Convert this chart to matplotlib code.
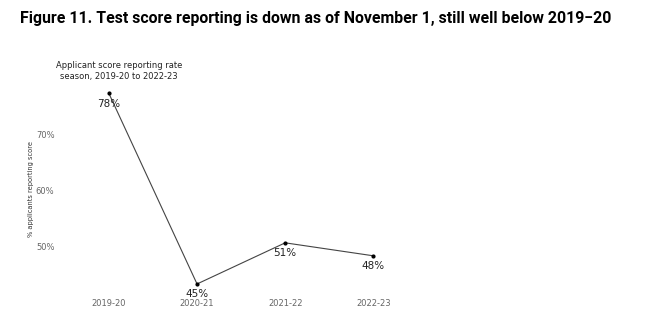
import matplotlib.pyplot as plt

seasons = ['2019-20', '2020-21', '2021-22', '2022-23']
rate = [77.2, 43.4, 50.7, 48.4]
rate_labels = ['78%', '45%', '51%', '48%']
yticks = [50, 60, 70]

fig = plt.figure(figsize=(6.58, 3.22), dpi=100)
W, H = 658, 322
# axes placed in pixel coords
left, right, top, bottom = 60, 420, 85, 293
ax = fig.add_axes([left / W, 1 - bottom / H, (right - left) / W, (bottom - top) / H])

x = range(len(seasons))
ax.plot(x, rate, color='#444444', lw=0.8, marker='o', ms=2, mfc='black', mec='black')
for xi, v, lab in zip(x, rate, rate_labels):
    ax.annotate(lab, (xi, v), xytext=(0, -7.5), textcoords='offset points',
                ha='center', va='center', fontsize=7.5, color='#222222')

ax.set_xlim(-0.555, 3.53)
ax.set_ylim(41.8, 78.7)
ax.set_xticks(list(x))
ax.set_xticklabels(seasons)
ax.set_yticks(yticks)
ax.set_yticklabels([f'{t}%' for t in yticks])
ax.tick_params(length=0, labelsize=6, labelcolor='#666666', pad=4)
for s in ax.spines.values():
    s.set_visible(False)
ax.set_ylabel('% applicants reporting score', fontsize=4.8, color='#333333', labelpad=1)

fig.text(119 / W, 1 - 71 / H, 'Applicant score reporting rate\nseason, 2019-20 to 2022-23',
         ha='center', va='center', fontsize=6, color='#222222', linespacing=1.15)
fig.text(20 / W, 1 - 19 / H,
         'Figure 11. Test score reporting is down as of November 1, still well below 2019\u221220',
         ha='left', va='center', fontsize=11.4, fontweight='bold', family=['Roboto', 'DejaVu Sans'])

fig.savefig('out.png', dpi=100)
